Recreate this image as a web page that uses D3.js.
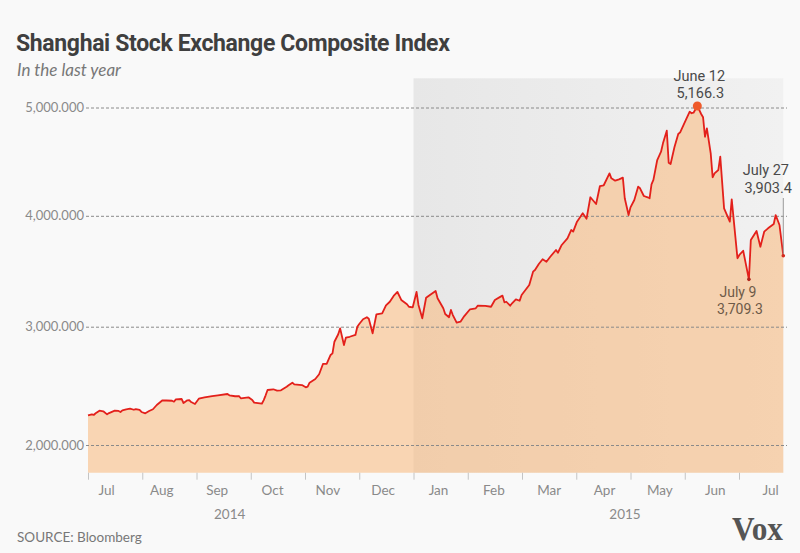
<!DOCTYPE html>
<html>
<head>
<meta charset="utf-8">
<script src="https://cdn.jsdelivr.net/npm/d3@7"></script>
<style>
  html, body { margin: 0; padding: 0; background: #f9f9f9; }
  svg { display: block; font-family: Lato, "Open Sans", sans-serif; }
</style>
</head>
<body>
<svg id="chart" width="800" height="553"></svg>
<script>
// ---------------- data ----------------
const dates = [
"2014-07-28","2014-07-30","2014-07-31","2014-08-01","2014-08-03","2014-08-05","2014-08-07","2014-08-08",
"2014-08-11","2014-08-13","2014-08-14","2014-08-15","2014-08-17","2014-08-19","2014-08-21","2014-08-22",
"2014-08-24","2014-08-25","2014-08-27","2014-08-29","2014-08-31","2014-09-02","2014-09-05","2014-09-07",
"2014-09-10","2014-09-11","2014-09-12","2014-09-15","2014-09-16","2014-09-18","2014-09-19","2014-09-20",
"2014-09-22","2014-09-24","2014-09-27","2014-10-01","2014-10-04","2014-10-09","2014-10-10","2014-10-13",
"2014-10-15","2014-10-16","2014-10-20","2014-10-22","2014-10-23","2014-10-27","2014-10-28","2014-10-29",
"2014-10-30","2014-11-02","2014-11-04","2014-11-06","2014-11-09","2014-11-10","2014-11-12","2014-11-13",
"2014-11-17","2014-11-19","2014-11-20","2014-11-21","2014-11-24","2014-11-26","2014-11-28","2014-11-30",
"2014-12-02","2014-12-03","2014-12-04","2014-12-06","2014-12-07","2014-12-09","2014-12-10","2014-12-12",
"2014-12-15","2014-12-16","2014-12-17","2014-12-19","2014-12-21","2014-12-22","2014-12-24","2014-12-26",
"2014-12-29","2014-12-31","2015-01-02","2015-01-04","2015-01-06","2015-01-08","2015-01-11","2015-01-12",
"2015-01-14","2015-01-16","2015-01-17","2015-01-19","2015-01-21","2015-01-23","2015-01-26","2015-01-27",
"2015-01-30","2015-01-31","2015-02-02","2015-02-03","2015-02-04","2015-02-06","2015-02-08","2015-02-10",
"2015-02-13","2015-02-16","2015-02-17","2015-02-21","2015-02-24","2015-02-26","2015-03-01","2015-03-02",
"2015-03-03","2015-03-04","2015-03-06","2015-03-07","2015-03-09","2015-03-11","2015-03-12","2015-03-16",
"2015-03-18","2015-03-19","2015-03-21","2015-03-23","2015-03-25","2015-03-27","2015-03-30","2015-03-31",
"2015-04-02","2015-04-05","2015-04-07","2015-04-08","2015-04-10","2015-04-13","2015-04-15","2015-04-17",
"2015-04-20","2015-04-22","2015-04-24","2015-04-27","2015-04-28","2015-04-30","2015-05-02","2015-05-04",
"2015-05-05","2015-05-07","2015-05-08","2015-05-10","2015-05-12","2015-05-13","2015-05-15","2015-05-17",
"2015-05-18","2015-05-19","2015-05-20","2015-05-22","2015-05-24","2015-05-25","2015-05-27","2015-05-28",
"2015-05-29","2015-05-31","2015-06-02","2015-06-03","2015-06-06","2015-06-08","2015-06-09","2015-06-10",
"2015-06-12","2015-06-14","2015-06-15","2015-06-16","2015-06-17","2015-06-19","2015-06-20","2015-06-21",
"2015-06-23","2015-06-24","2015-06-26","2015-06-29","2015-06-30","2015-07-03","2015-07-04","2015-07-06",
"2015-07-09","2015-07-10","2015-07-12","2015-07-13","2015-07-15","2015-07-17","2015-07-19","2015-07-22",
"2015-07-23","2015-07-25","2015-07-27"
];
const values = [
2251,2259,2254,2268,2290,2285,2259,2270,
2290,2288,2279,2293,2302,2307,2298,2304,
2296,2279,2268,2287,2302,2338,2378,2376,
2374,2366,2386,2389,2355,2378,2380,2363,
2347,2391,2403,2414,2420,2431,2420,2412,
2414,2395,2403,2380,2358,2349,2380,2420,
2465,2471,2459,2462,2493,2505,2527,2513,
2507,2488,2493,2527,2558,2598,2685,2687,
2761,2775,2873,2936,2986,2845,2907,2915,
2930,3000,3024,3067,3085,3072,2944,3112,
3121,3193,3225,3277,3313,3241,3202,3180,
3175,3313,3196,3076,3261,3286,3322,3256,
3166,3115,3085,3151,3105,3036,3045,3096,
3157,3166,3189,3187,3180,3241,3271,3280,
3220,3225,3189,3211,3247,3234,3286,3376,
3496,3511,3565,3608,3586,3631,3692,3667,
3737,3797,3872,3857,3947,4023,3974,4171,
4109,4275,4282,4392,4346,4324,4337,4352,
4162,4007,4078,4146,4269,4254,4183,4171,
4162,4291,4331,4515,4592,4669,4786,4490,
4478,4633,4755,4771,4885,4961,4947,4952,
5014,4940,4910,4730,4808,4577,4356,4392,
4423,4546,4069,3947,4152,3617,3647,3685,
3427,3782,3836,3863,3721,3857,3887,3926,
4007,3917,3640
];
const yTicks = [2000, 3000, 4000, 5000];
const monthKeys = ["2014-07","2014-08","2014-09","2014-10","2014-11","2014-12",
                   "2015-01","2015-02","2015-03","2015-04","2015-05","2015-06","2015-07"];
const years = ["2014", "2015"];
const annotations = [
  { date: "2015-06-12", label: "June 12", value: "5,166.3" },
  { date: "2015-07-09", label: "July 9",  value: "3,709.3" },
  { date: "2015-07-27", label: "July 27", value: "3,903.4" }
];
const shadeStart = "2015-01";
const title = "Shanghai Stock Exchange Composite Index";
const subtitle = "In the last year";
const source = "SOURCE: Bloomberg";

// ---------------- chart ----------------
const parse = d3.timeParse("%Y-%m-%d");
const parseMonth = d3.timeParse("%Y-%m");
const data = dates.map((d, i) => ({ date: parse(d), value: values[i] }));

const svg = d3.select("#chart");
svg.append("rect").attr("width", 800).attr("height", 553).attr("fill", "#f9f9f9");

const plotLeft = 88, plotRight = 783.3, plotTop = 78.3, plotBottom = 472.7;

const x = d3.scaleTime()
  .domain(d3.extent(data, d => d.date))
  .range([plotLeft, plotRight]);

// axis of the original is slightly non-linear between gridlines
const y = d3.scaleLinear()
  .domain(yTicks)
  .range([445, 326.7, 215.8, 107.5]);

const tickScale = d3.scalePoint().domain(monthKeys).range([88, 739]);
const labelScale = d3.scalePoint().domain(monthKeys).range([106, 770]);

// shaded 2015 region
const defs = svg.append("defs");
const grad = defs.append("linearGradient").attr("id", "shade").attr("x1", "0").attr("x2", "1");
grad.append("stop").attr("offset", "0").attr("stop-color", "#e7e7e7");
grad.append("stop").attr("offset", "1").attr("stop-color", "#f1f1f1");
svg.append("rect")
  .attr("x", tickScale(shadeStart))
  .attr("y", plotTop)
  .attr("width", plotRight - tickScale(shadeStart))
  .attr("height", plotBottom - plotTop)
  .attr("fill", "url(#shade)");

// area
const baseline = y.invert(plotBottom);
const area = d3.area()
  .x(d => x(d.date))
  .y0(y(baseline))
  .y1(d => y(d.value));
svg.append("path").datum(data)
  .attr("d", area)
  .attr("fill", "rgba(250,186,124,0.56)");

// gridlines + y labels
const yAxis = d3.axisLeft(y).tickValues(yTicks)
  .tickFormat(d3.format(",.3f"))
  .tickSize(-(787 - 86))
  .tickPadding(2);
const gy = svg.append("g").attr("transform", "translate(86,0)").call(yAxis);
gy.select(".domain").remove();
gy.selectAll(".tick line")
  .attr("stroke", "#8a8a8a")
  .attr("stroke-dasharray", "3,2");
gy.selectAll(".tick text")
  .attr("fill", "#8a8a8a")
  .attr("font-size", 13)
  .attr("font-family", "Lato, sans-serif");

// line
const line = d3.line().x(d => x(d.date)).y(d => y(d.value));
svg.append("path").datum(data)
  .attr("d", line)
  .attr("fill", "none")
  .attr("stroke", "#e3201b")
  .attr("stroke-width", 1.8)
  .attr("stroke-linejoin", "round");

// x axis ticks
const xTickAxis = d3.axisBottom(tickScale).tickSize(7).tickFormat("");
const gxt = svg.append("g").attr("transform", `translate(0,${plotBottom})`).call(xTickAxis);
gxt.select(".domain").remove();
gxt.selectAll(".tick line").attr("stroke", "#c4c4c4");

// x axis labels
const xLabelAxis = d3.axisBottom(labelScale).tickSize(0).tickPadding(0)
  .tickFormat(k => d3.timeFormat("%b")(parseMonth(k)));
const gxl = svg.append("g").attr("transform", `translate(0,${plotBottom + 13})`).call(xLabelAxis);
gxl.select(".domain").remove();
gxl.selectAll(".tick text")
  .attr("fill", "#8a8a8a")
  .attr("font-size", 13.5)
  .attr("font-family", "Lato, sans-serif");

// year labels
const yearX = [labelScale("2014-09") + 13, labelScale("2015-04") + 21];
svg.selectAll(".year").data(years).enter().append("text")
  .attr("class", "year")
  .attr("x", (d, i) => yearX[i])
  .attr("y", 519)
  .attr("text-anchor", "middle")
  .attr("fill", "#8a8a8a")
  .attr("font-size", 13.5)
  .text(d => d);

// annotations
const ann = annotations.map(a => {
  const pt = data.find(d => +d.date === +parse(a.date));
  return Object.assign({}, a, { px: x(pt.date), py: y(pt.value) });
});
const annFont = "Roboto, sans-serif";
// June 12 peak
const a0 = ann[0];
svg.append("circle").attr("cx", a0.px).attr("cy", a0.py).attr("r", 4.5).attr("fill", "#ef5a2a");
svg.append("text").attr("x", a0.px + 2).attr("y", 81).attr("text-anchor", "middle")
  .attr("fill", "#4a4a4a").attr("font-size", 14.5).attr("font-family", annFont).text(a0.label);
svg.append("text").attr("x", a0.px + 3).attr("y", 98).attr("text-anchor", "middle")
  .attr("fill", "#4a4a4a").attr("font-size", 14.5).attr("font-family", annFont).text(a0.value);
// July 9 trough
const a1 = ann[1];
svg.append("circle").attr("cx", a1.px).attr("cy", a1.py).attr("r", 1.8).attr("fill", "#b0231b");
svg.append("text").attr("x", a1.px - 11).attr("y", a1.py + 18).attr("text-anchor", "middle")
  .attr("fill", "#6e5a48").attr("font-size", 14).attr("font-family", annFont).text(a1.label);
svg.append("text").attr("x", a1.px - 9).attr("y", a1.py + 34.5).attr("text-anchor", "middle")
  .attr("fill", "#6e5a48").attr("font-size", 14).attr("font-family", annFont).text(a1.value);
// July 27 end
const a2 = ann[2];
svg.append("line").attr("x1", a2.px).attr("x2", a2.px).attr("y1", 198).attr("y2", a2.py)
  .attr("stroke", "#9a9a9a").attr("stroke-width", 1);
svg.append("circle").attr("cx", a2.px).attr("cy", a2.py).attr("r", 1.8).attr("fill", "#d42a1e");
svg.append("text").attr("x", 789).attr("y", 175).attr("text-anchor", "end")
  .attr("fill", "#4a4a4a").attr("font-size", 14.5).attr("font-family", annFont).text(a2.label);
svg.append("text").attr("x", 792).attr("y", 193).attr("text-anchor", "end")
  .attr("fill", "#4a4a4a").attr("font-size", 14.5).attr("font-family", annFont).text(a2.value);

// titles
svg.append("text").attr("x", 16).attr("y", 51)
  .attr("fill", "#3f3f3f").attr("font-size", 23).attr("font-weight", 700)
  .attr("font-family", "Roboto, sans-serif").attr("letter-spacing", -0.35)
  .text(title);
svg.append("text").attr("x", 17).attr("y", 76)
  .attr("fill", "#777").attr("font-size", 17).attr("font-style", "italic")
  .text(subtitle);
svg.append("text").attr("x", 17).attr("y", 542)
  .attr("fill", "#777").attr("font-size", 13.5)
  .text(source);

// Vox logo
svg.append("text").attr("x", 732).attr("y", 540)
  .attr("fill", "#555").attr("font-size", 34).attr("font-weight", 700)
  .attr("font-family", "'Liberation Serif', 'DejaVu Serif', serif")
  .attr("textLength", 51).attr("lengthAdjust", "spacingAndGlyphs")
  .text("Vox");
</script>
</body>
</html>
